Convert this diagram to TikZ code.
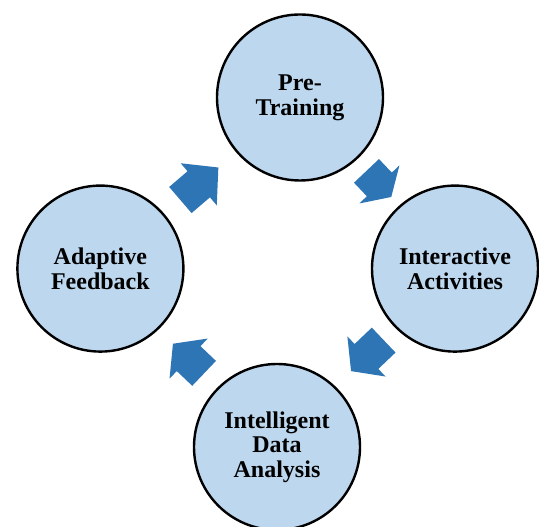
\documentclass[tikz,border=0pt]{standalone}
\usepackage{fontspec}
\setmainfont{Liberation Serif}
\usetikzlibrary{shapes.arrows,calc}
\definecolor{circfill}{HTML}{BDD7EE}
\definecolor{arrowblue}{HTML}{2E75B6}
\begin{document}
\begin{tikzpicture}[x=1pt,y=1pt,
  stage/.style={circle, draw=black, line width=2.4pt, fill=circfill,
    minimum size=166pt, inner sep=0pt, align=center,
    font=\bfseries\fontsize{24}{24.6}\selectfont},
  cyc/.style={single arrow, fill=arrowblue, draw=none, minimum width=55pt,
    single arrow head extend=10.5pt, single arrow head indent=0pt,
    inner xsep=0pt, inner ysep=17pt, anchor=tail}]
\clip (0,0) rectangle (539,527);
\node[stage] (T) at (300,429.5) {Pre-\\Training};
\node[stage] (R) at (455,258.4) {Interactive\\Activities};
\node[stage] (B) at (277,80) {Intelligent\\Data\\Analysis};
\node[stage] (L) at (100.4,258.4) {Adaptive\\Feedback};
\node[cyc, minimum height=50pt, single arrow tip angle=94, rotate=40.6] (a1) at ($(L)!0.40!(T)$) {};
\node[cyc, minimum height=36pt, single arrow tip angle=116, rotate=-46.5] (a2) at ($(T)!0.428!(R)$) {};
\node[cyc, minimum height=45pt, single arrow tip angle=105, rotate=-136.4] (a3) at ($(R)!0.40!(B)$) {};
\node[cyc, minimum height=43pt, single arrow tip angle=104, rotate=136.4] (a4) at ($(B)!0.412!(L)$) {};
\end{tikzpicture}
\end{document}
